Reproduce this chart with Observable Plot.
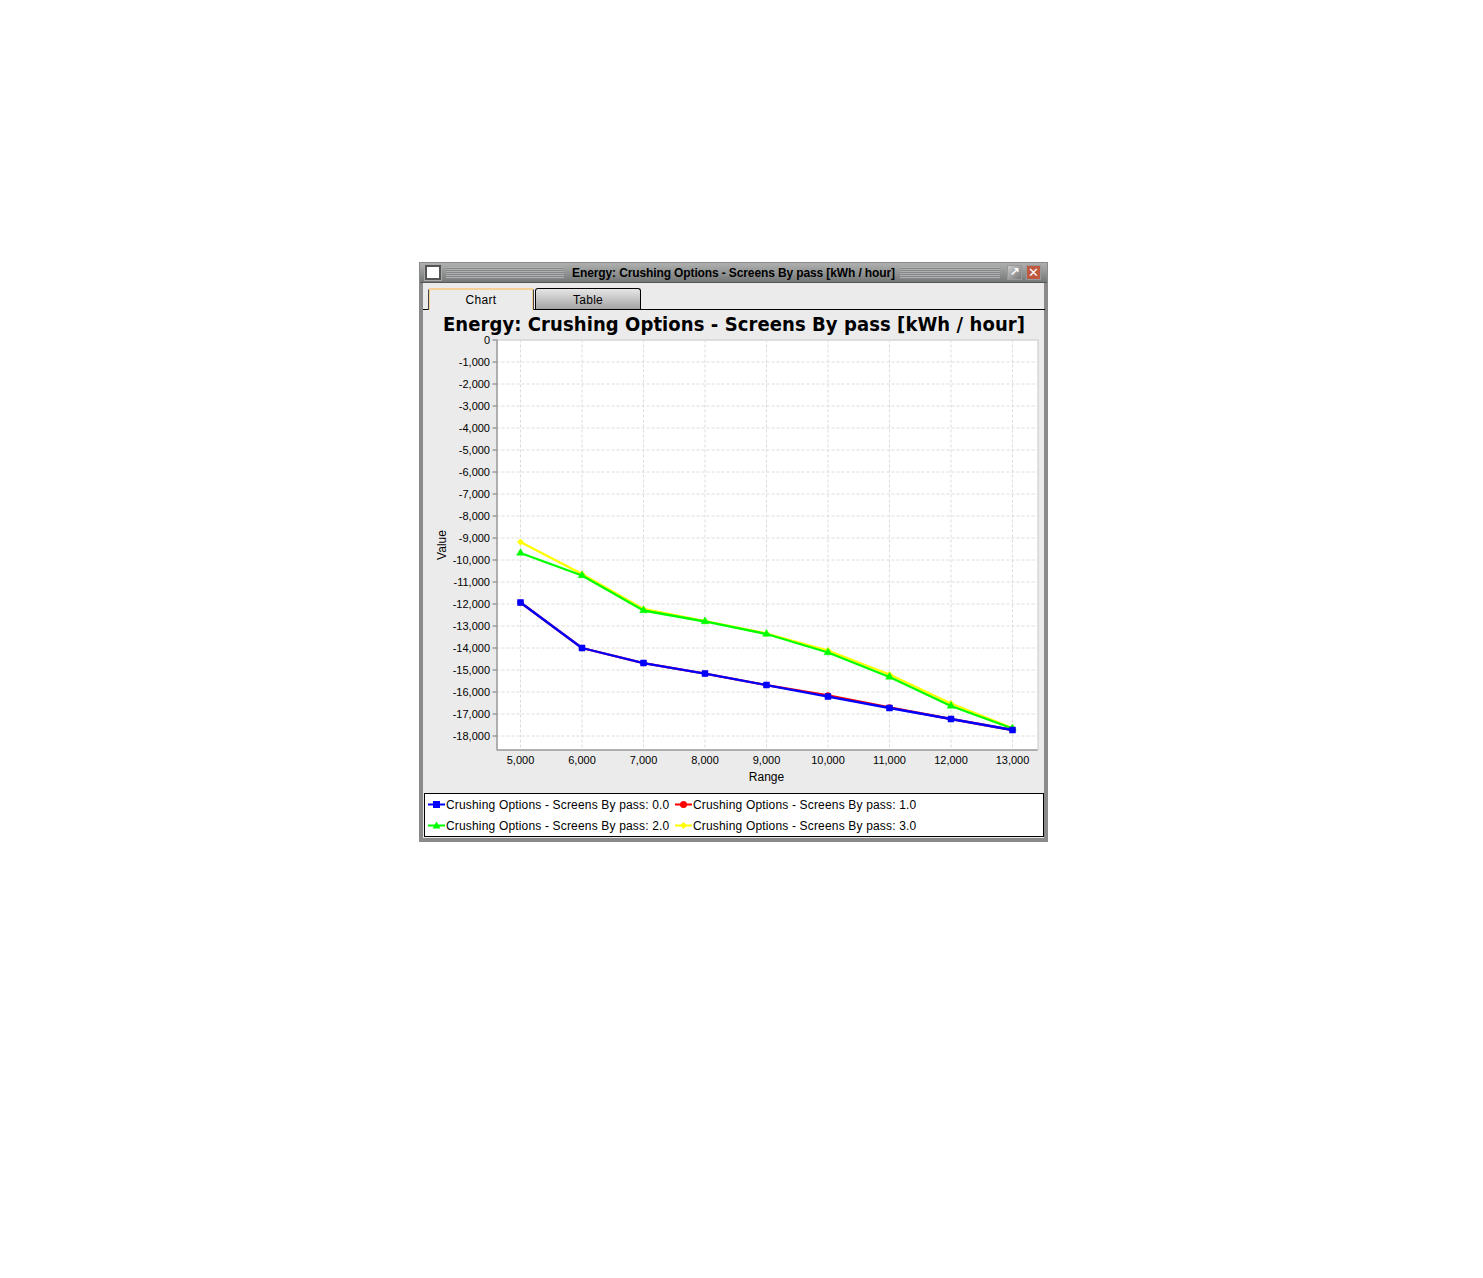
<!DOCTYPE html>
<html><head><meta charset="utf-8">
<script src="https://cdn.jsdelivr.net/npm/d3@7"></script>
<script src="https://cdn.jsdelivr.net/npm/@observablehq/plot@0.6"></script>
<style>
html,body{margin:0;padding:0;background:#fff;width:1483px;height:1278px;overflow:hidden}
body{position:relative;font-family:"Liberation Sans",Arial,sans-serif}
.a{position:absolute;box-sizing:border-box}
#win{left:419px;top:262px;width:629px;height:580px;background:#ebebeb;border-style:solid;border-width:1px 4px 4px 4px;border-color:#8a8a8a}
#bar{left:420px;top:263px;width:627px;height:20px;background:linear-gradient(#b0b0b0,#757878);border-bottom:1px solid #555}
.grip{height:12px;top:267px;background:repeating-linear-gradient(#aeb0b0 0 1px,#85888a 1px 2px)}
#ttl{left:420px;top:264px;width:627px;height:19px;line-height:18px;text-align:center;font-size:12px;font-weight:bold;letter-spacing:-.12px;color:#000}
.tab{height:22px;text-align:center;font-size:12px;line-height:21px;letter-spacing:.3px;border:1px solid #000;border-radius:3px 3px 0 0;border-bottom:0}
#rule{left:423px;top:309px;width:622px;height:1px;background:#000}
#title{left:424px;top:311px;width:620px;height:26px;text-align:center;font:bold 20px/26px "DejaVu Sans Condensed","DejaVu Sans",sans-serif;font-stretch:condensed;letter-spacing:.08px;white-space:nowrap;color:#000}
#legend{left:424px;top:793px;width:620px;height:44px;background:#fff;border:1px solid #000}
.lg{position:absolute;font-size:12px;letter-spacing:.17px;white-space:nowrap;line-height:14px}
#chart{left:424px;top:329px}
</style></head>
<body>
<div class="a" id="win"></div>
<div class="a" id="bar"></div>
<div class="a grip" style="left:446px;width:118px"></div>
<div class="a grip" style="left:900px;width:100px"></div>
<div class="a" id="ttl">Energy: Crushing Options - Screens By pass [kWh / hour]</div>
<div class="a" style="left:425px;top:265px;width:16px;height:15px;background:#fff;border:2px solid #555;box-shadow:0 0 0 1px #aaa"></div>
<div class="a" style="left:1007px;top:265px;width:15px;height:15px;background:linear-gradient(135deg,#ccc,#777);border:1px solid #999;color:#fff;font:bold 12px/13px 'DejaVu Sans';text-align:center">↗</div>
<div class="a" style="left:1026px;top:265px;width:15px;height:15px;background:#c0583f;border:1px solid #999;color:#fff;font:bold 13px/13px 'DejaVu Sans';text-align:center">✕</div>
<div class="a" id="rule"></div>
<div class="a tab" style="left:428px;top:288px;width:106px;height:22px;background:#ebebeb;border-color:#444;border-top:2px solid #f4cf96;box-shadow:inset 1px 0 #f4cf96,inset -1px 0 #f4cf96">Chart</div>
<div class="a tab" style="left:535px;top:288px;width:106px;height:21px;line-height:22px;background:linear-gradient(#e6e6e6,#a4a4a4)">Table</div>
<div class="a" id="title">Energy: Crushing Options - Screens By pass [kWh / hour]</div>
<div class="a" id="chart"></div>
<div class="a" id="legend"></div>
<script>
const ranges = [5000,6000,7000,8000,9000,10000,11000,12000,13000];
const bypass0 = [-11932,-14000,-14682,-15160,-15682,-16205,-16727,-17227,-17727];
const bypass1 = [-11932,-14000,-14682,-15160,-15682,-16150,-16700,-17227,-17727];
const bypass2 = [-9682,-10705,-12295,-12795,-13364,-14205,-15318,-16636,-17660];
const bypass3 = [-9182,-10636,-12227,-12773,-13340,-14114,-15205,-16523,-17636];
const yTicks = d3.range(0,-18001,-1000);
const seriesNames = ["Crushing Options - Screens By pass: 0.0","Crushing Options - Screens By pass: 1.0","Crushing Options - Screens By pass: 2.0","Crushing Options - Screens By pass: 3.0"];
const seriesColors = ["#0000ff","#ff0000","#00ff00","#ffff00"];
const seriesSymbols = ["square","circle","triangle","diamond2"];
const seriesSizes = [36,26,26,26];
const seriesValues = [bypass0,bypass1,bypass2,bypass3];

const fmt = d => d3.format(",")(d).replace("\u2212","-");
const grid = {stroke:"#dcdcdc",strokeOpacity:1,strokeWidth:1,strokeDasharray:"3,2"};
const marks = [
  Plot.frame({fill:"#fff",stroke:"#c8c8c8",strokeWidth:1}),
  Plot.gridX(ranges,grid),
  Plot.gridY(yTicks,grid),
  Plot.ruleX([4618],{stroke:"#808080"}),
  Plot.ruleY([-18636],{stroke:"#808080"}),
  Plot.axisX(ranges,{tickFormat:fmt,tickSize:0,tickPadding:6,fontSize:11,label:null,fill:"#000"}),
  Plot.axisY(yTicks,{tickFormat:fmt,tickSize:4,tickPadding:3,fontSize:11,label:null,stroke:"#777",fill:"#000"}),
  Plot.text(["Range"],{frameAnchor:"bottom",dy:27,dx:-1,fontSize:12,fill:"#000",lineAnchor:"middle"}),
  Plot.text(["Value"],{frameAnchor:"left",dx:-55,rotate:-90,fontSize:12,fill:"#000",lineAnchor:"middle",textAnchor:"middle"})
];
[3,2,1,0].forEach(i=>{
  const rows = ranges.map((x,k)=>({x,y:seriesValues[i][k]}));
  marks.push(Plot.line(rows,{x:"x",y:"y",stroke:seriesColors[i],strokeWidth:2.3}));
  marks.push(Plot.dot(rows,{x:"x",y:"y",fill:seriesColors[i],stroke:seriesColors[i],strokeWidth:.5,symbol:seriesSymbols[i],r:Math.sqrt(seriesSizes[i]/Math.PI)}));
});
const plot = Plot.plot({
  width:620,height:460,marginLeft:72.5,marginRight:6.5,marginTop:10.5,marginBottom:39.5,
  x:{domain:[4618,13415]},
  y:{domain:[-18636,0]},
  style:{background:"transparent",fontFamily:"'Liberation Sans',Arial,sans-serif",fontSize:"11px"},
  marks
});
document.getElementById("chart").appendChild(plot);

const legend = document.getElementById("legend");
const lx=[3,250], ly=[4,25];
[0,1,2,3].forEach(i=>{
  const col=i%2,row=i>>1;
  const sym = i==0?'<rect x="5" y="3" width="7" height="7"/>':i==1?'<circle cx="8.5" cy="6.5" r="3.5"/>':i==2?'<path d="M8.5 2.5 L12.5 9.5 L4.5 9.5Z"/>':'<path d="M8.5 3 L12 6.5 L8.5 10 L5 6.5Z"/>';
  const d=document.createElement("div");d.className="lg";
  d.style.left=lx[col]+"px";d.style.top=ly[row]+"px";
  d.innerHTML=`<svg width="17" height="13" style="position:absolute;left:0;top:0"><line x1="0" x2="17" y1="6.5" y2="6.5" stroke="${seriesColors[i]}" stroke-width="2"/><g fill="${seriesColors[i]}">${sym}</g></svg><span style="margin-left:18px">${seriesNames[i]}</span>`;
  legend.appendChild(d);
});
</script>
</body></html>
